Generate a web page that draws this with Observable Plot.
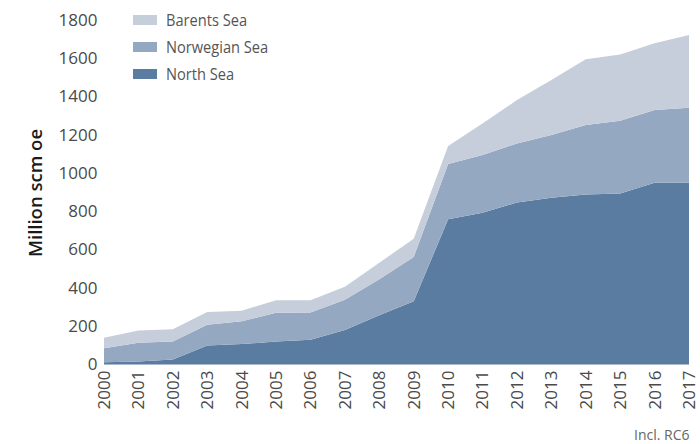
<!DOCTYPE html>
<html>
<head>
<meta charset="utf-8">
<script src="https://cdn.jsdelivr.net/npm/d3@7"></script>
<script src="https://cdn.jsdelivr.net/npm/@observablehq/plot@0.6"></script>
<style>
  html, body { margin: 0; padding: 0; background: #fff; }
  #wrap { position: relative; width: 700px; height: 444px; overflow: hidden; }
  #legend { position: absolute; left: 133px; top: 6px; font-family: "Open Sans", sans-serif; font-size: 17px; color: #555; }
  #legend .row { display: flex; align-items: center; height: 27px; }
  #legend .sw { width: 24px; height: 10px; margin-right: 9px; flex: none; }
  #legend span { display: inline-block; transform: scaleX(0.86); transform-origin: left center; white-space: nowrap; }
  #caption { position: absolute; left: 634px; top: 428px; line-height: 14px; font-family: "Open Sans", sans-serif; font-size: 14px; color: #666; white-space: nowrap; }
</style>
</head>
<body>
<div id="wrap"></div>
<script>
const years = [2000, 2001, 2002, 2003, 2004, 2005, 2006, 2007, 2008, 2009, 2010, 2011, 2012, 2013, 2014, 2015, 2016, 2017];
const seriesNames = ["North Sea", "Norwegian Sea", "Barents Sea"];
const northSea     = [9, 13, 24, 97, 104, 118, 127, 178, 255, 328, 757, 792, 845, 870, 887, 892, 948, 948];
const norwegianSea = [74, 98, 94, 108, 120, 150, 143, 158, 188, 232, 289, 301, 309, 328, 363, 381, 381, 393];
const barentsSea   = [54, 64, 64, 67, 55, 66, 64, 68, 87, 95, 95, 166, 227, 288, 344, 347, 349, 381];
const yTicks = [0, 200, 400, 600, 800, 1000, 1200, 1400, 1600, 1800];
const colors = ["#5a7ca0", "#94a8c1", "#c6cedb"];
const yTitle = "Million scm oe";
const caption = "Incl. RC6";

const values = [northSea, norwegianSea, barentsSea];
const data = [];
seriesNames.forEach((name, i) => {
  years.forEach((yr, j) => data.push({year: yr, region: name, value: values[i][j]}));
});

const chart = Plot.plot({
  width: 700,
  height: 444,
  marginLeft: 104,
  marginRight: 11,
  marginTop: 20,
  marginBottom: 80,
  style: {fontFamily: "'Open Sans', sans-serif", fontSize: "17px", color: "#4a4a4a", background: "#fff"},
  x: {type: "linear", domain: [2000, 2017]},
  y: {domain: [0, 1800]},
  color: {domain: seriesNames, range: colors},
  marks: [
    Plot.areaY(data, {x: "year", y: "value", z: "region", fill: "region", order: seriesNames, curve: "linear"}),
    Plot.ruleY([0], {stroke: "#a9bacd", strokeWidth: 1}),
    Plot.axisX({ticks: years, tickFormat: d => String(d), tickRotate: -90, tickSize: 0, tickPadding: 6, label: null, fontSize: 17}),
    Plot.axisY({ticks: yTicks, tickFormat: d => String(d), tickSize: 0, tickPadding: 7, label: null, fontSize: 17}),
  ]
});

const wrap = document.getElementById("wrap");
wrap.appendChild(chart);

// y-axis title
const svgNS = "http://www.w3.org/2000/svg";
const t = document.createElementNS(svgNS, "text");
t.setAttribute("transform", "translate(42,193) rotate(-90)");
t.setAttribute("text-anchor", "middle");
t.setAttribute("font-family", "'Open Sans', sans-serif");
t.setAttribute("font-size", "18.5");
t.setAttribute("font-weight", "600");
t.setAttribute("fill", "#1a1a1a");
t.textContent = yTitle;
chart.appendChild(t);

// legend (top to bottom: Barents, Norwegian, North)
const legend = document.createElement("div");
legend.id = "legend";
[2, 1, 0].forEach(i => {
  const row = document.createElement("div");
  row.className = "row";
  const sw = document.createElement("div");
  sw.className = "sw";
  sw.style.background = colors[i];
  const lab = document.createElement("span");
  lab.textContent = seriesNames[i];
  row.appendChild(sw); row.appendChild(lab);
  legend.appendChild(row);
});
wrap.appendChild(legend);

const cap = document.createElement("div");
cap.id = "caption";
cap.textContent = caption;
wrap.appendChild(cap);
</script>
</body>
</html>
